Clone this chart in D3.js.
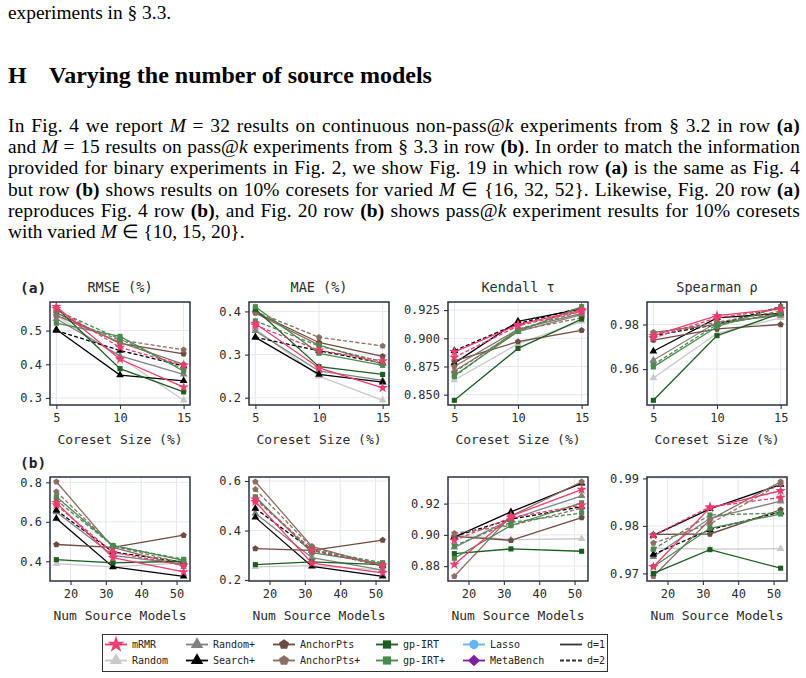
<!DOCTYPE html>
<html>
<head>
<meta charset="utf-8">
<script src="https://cdn.jsdelivr.net/npm/d3@7"></script>
<style>
  body { margin: 0; background: #fff; }
  svg { display: block; }
  text { white-space: pre; }
</style>
</head>
<body>
<svg id="fig" width="806" height="678"></svg>
<script>
// x values
const coresetSizes = [5, 10, 15];
const sourceModels = [16, 32, 52];

// series: method and d (same order as rows of every value table below)
const seriesKeys = [
  ["Random", 1], ["Random+", 1], ["Search+", 1], ["Search+", 2],
  ["AnchorPts", 1], ["AnchorPts+", 1], ["AnchorPts+", 2],
  ["gp-IRT", 1], ["gp-IRT+", 1], ["gp-IRT+", 2],
  ["mRMR", 1], ["mRMR", 2]
];

// row (a): vs coreset size
const rmseCoreset = [
  [0.545, 0.420, 0.293], [0.535, 0.425, 0.370], [0.503, 0.368, 0.351], [0.500, 0.441, 0.395],
  [0.553, 0.462, 0.431], [0.545, 0.465, 0.400], [0.545, 0.472, 0.443],
  [0.568, 0.387, 0.318], [0.522, 0.483, 0.380], [0.560, 0.475, 0.385],
  [0.571, 0.415, 0.332], [0.565, 0.450, 0.397]
];
const maeCoreset = [
  [0.360, 0.250, 0.194], [0.355, 0.262, 0.240], [0.340, 0.254, 0.236], [0.340, 0.309, 0.280],
  [0.398, 0.328, 0.296], [0.396, 0.322, 0.278], [0.400, 0.340, 0.320],
  [0.405, 0.272, 0.254], [0.411, 0.303, 0.275], [0.378, 0.320, 0.283],
  [0.372, 0.269, 0.223], [0.368, 0.310, 0.285]
];
const kendallCoreset = [
  [0.863, 0.895, 0.915], [0.871, 0.906, 0.921], [0.878, 0.915, 0.926], [0.889, 0.913, 0.927],
  [0.880, 0.897, 0.907], [0.875, 0.908, 0.922], [0.870, 0.907, 0.918],
  [0.845, 0.891, 0.917], [0.867, 0.906, 0.928], [0.866, 0.908, 0.924],
  [0.888, 0.912, 0.925], [0.883, 0.911, 0.924]
];
const spearmanCoreset = [
  [0.956, 0.976, 0.983], [0.964, 0.981, 0.984], [0.968, 0.983, 0.985], [0.975, 0.980, 0.988],
  [0.973, 0.978, 0.980], [0.9765, 0.980, 0.985], [0.976, 0.981, 0.986],
  [0.946, 0.975, 0.985], [0.961, 0.979, 0.988], [0.962, 0.980, 0.985],
  [0.975, 0.984, 0.987], [0.974, 0.983, 0.987]
];

// row (b): vs number of source models
const rmseModels = [
  [0.388, 0.372, 0.392], [0.650, 0.430, 0.385], [0.617, 0.371, 0.324], [0.659, 0.447, 0.395],
  [0.485, 0.470, 0.532], [0.803, 0.470, 0.375], [0.752, 0.478, 0.390],
  [0.408, 0.392, 0.400], [0.727, 0.480, 0.405], [0.710, 0.478, 0.410],
  [0.697, 0.418, 0.346], [0.685, 0.445, 0.380]
];
const maeModels = [
  [0.253, 0.258, 0.240], [0.470, 0.290, 0.240], [0.453, 0.255, 0.215], [0.489, 0.320, 0.258],
  [0.327, 0.320, 0.361], [0.597, 0.336, 0.255], [0.566, 0.330, 0.262],
  [0.262, 0.273, 0.262], [0.536, 0.310, 0.266], [0.530, 0.322, 0.270],
  [0.516, 0.268, 0.229], [0.526, 0.320, 0.260]
];
const kendallModels = [
  [0.900, 0.897, 0.8975], [0.892, 0.910, 0.925], [0.8985, 0.9147, 0.933], [0.899, 0.910, 0.918],
  [0.899, 0.8965, 0.911], [0.8735, 0.912, 0.934], [0.901, 0.906, 0.917],
  [0.888, 0.891, 0.8895], [0.885, 0.906, 0.9205], [0.893, 0.908, 0.914],
  [0.881, 0.912, 0.929], [0.8965, 0.911, 0.919]
];
const spearmanModels = [
  [0.9753, 0.9751, 0.9752], [0.9735, 0.9816, 0.9852], [0.978, 0.9836, 0.9887], [0.974, 0.9792, 0.9829],
  [0.9782, 0.9783, 0.9834], [0.9694, 0.9813, 0.9893], [0.9764, 0.9804, 0.9889],
  [0.9700, 0.9750, 0.9711], [0.9714, 0.9795, 0.9825], [0.9751, 0.9823, 0.9827],
  [0.9714, 0.9838, 0.9874], [0.978, 0.9840, 0.9860]
];

// tick labels
const titles = ["RMSE (%)", "MAE (%)", "Kendall τ", "Spearman ρ"];
const xTicksA = [5, 10, 15];
const xTicksB = [20, 30, 40, 50];
const yTicksA = [[0.3, 0.4, 0.5], [0.2, 0.3, 0.4], [0.85, 0.875, 0.9, 0.925], [0.96, 0.98]];
const yTicksB = [[0.4, 0.6, 0.8], [0.2, 0.4, 0.6], [0.88, 0.90, 0.92], [0.97, 0.98, 0.99]];
const yFormatsA = [".1f", ".1f", ".3f", ".2f"];
const yFormatsB = [".1f", ".1f", ".2f", ".2f"];

// legend
const legendCols = [
  ["mRMR", "Random"], ["Random+", "Search+"], ["AnchorPts", "AnchorPts+"],
  ["gp-IRT", "gp-IRT+"], ["Lasso", "MetaBench"], ["d=1", "d=2"]
];

// ---------------------------------------------------------------------------
const pentagon = {
  draw(ctx, size) {
    const r = Math.sqrt(size / 2.378);
    for (let i = 0; i < 5; i++) {
      const a = -Math.PI / 2 + i * 2 * Math.PI / 5;
      i ? ctx.lineTo(r * Math.cos(a), r * Math.sin(a)) : ctx.moveTo(r * Math.cos(a), r * Math.sin(a));
    }
    ctx.closePath();
  }
};
const wideDiamond = {
  draw(ctx, size) {
    const r = Math.sqrt(size / 2);
    ctx.moveTo(0, -r); ctx.lineTo(r * 1.05, 0); ctx.lineTo(0, r); ctx.lineTo(-r * 1.05, 0); ctx.closePath();
  }
};

const methodStyle = {
  "mRMR":       {color: "#ef3b6e", symbol: d3.symbolStar, size: 34},
  "Random":     {color: "#c9c9c9", symbol: d3.symbolTriangle, size: 26},
  "Random+":    {color: "#808080", symbol: d3.symbolTriangle, size: 26},
  "Search+":    {color: "#000000", symbol: d3.symbolTriangle, size: 26},
  "AnchorPts":  {color: "#6d4c41", symbol: pentagon, size: 26},
  "AnchorPts+": {color: "#8d6e63", symbol: pentagon, size: 26},
  "gp-IRT":     {color: "#1b5e20", symbol: d3.symbolSquare, size: 26},
  "gp-IRT+":    {color: "#4a8a4e", symbol: d3.symbolSquare, size: 26},
  "Lasso":      {color: "#64b5f6", symbol: d3.symbolCircle, size: 26},
  "MetaBench":  {color: "#7b1fa2", symbol: wideDiamond, size: 26}
};

const mono = "'DejaVu Sans Mono', monospace";
const serif = "'Liberation Serif', 'Times New Roman', serif";
const svg = d3.select("#fig");

// ---------------------------------------------------------------------------
// page text
function textLine(parts, x, y, size, justifyTo, weight) {
  const t = svg.append("text")
    .attr("x", x).attr("y", y)
    .attr("font-family", serif).attr("font-size", size)
    .attr("font-weight", weight || "normal")
    .attr("fill", "#000");
  parts.forEach(([s, st]) => {
    const ts = t.append("tspan").text(s);
    if (st === "i") ts.attr("font-style", "italic");
    if (st === "b") ts.attr("font-weight", "bold");
  });
  if (justifyTo) {
    const full = parts.map(p => p[0]).join("");
    const w = t.node().getComputedTextLength();
    const extra = justifyTo - x - w;
    const nSpaces = full.split(" ").length - 1;
    const nChars = full.length;
    t.attr("letter-spacing", (extra * 0.45) / nChars)
     .attr("word-spacing", (extra * 0.55) / nSpaces);
  }
  return t;
}

textLine([["experiments in § 3.3."]], 8, 19, 19.4);
textLine([["H"]], 8, 83, 24, null, "bold");
textLine([["Varying the number of source models"]], 49, 83, 24, null, "bold");

const paragraph = [
  [["In Fig. 4 we report "], ["M", "i"], [" = 32 results on continuous non-pass@"], ["k", "i"], [" experiments from § 3.2 in row "], ["(a)", "b"]],
  [["and "], ["M", "i"], [" = 15 results on pass@"], ["k", "i"], [" experiments from § 3.3 in row "], ["(b)", "b"], [". In order to match the information"]],
  [["provided for binary experiments in Fig. 2, we show Fig. 19 in which row "], ["(a)", "b"], [" is the same as Fig. 4"]],
  [["but row "], ["(b)", "b"], [" shows results on 10% coresets for varied "], ["M", "i"], [" ∈ {16, 32, 52}. Likewise, Fig. 20 row "], ["(a)", "b"]],
  [["reproduces Fig. 4 row "], ["(b)", "b"], [", and Fig. 20 row "], ["(b)", "b"], [" shows pass@"], ["k", "i"], [" experiment results for 10% coresets"]],
  [["with varied "], ["M", "i"], [" ∈ {10, 15, 20}."]]
];
paragraph.forEach((parts, i) => {
  textLine(parts, 8, 132 + i * 21.2, 19.4, i < paragraph.length - 1 ? 800 : null);
});

// ---------------------------------------------------------------------------
// panels
const lefts = [50, 249, 448, 647];
const panelW = 140;
const rows = [
  {top: 302, h: 103, xs: coresetSizes, xDomain: [4.5, 15.5], xTicks: xTicksA,
   yTicks: yTicksA, yFormats: yFormatsA, data: [rmseCoreset, maeCoreset, kendallCoreset, spearmanCoreset],
   xLabel: "Coreset Size (%)", tag: "(a)"},
  {top: 477, h: 104, xs: sourceModels, xDomain: [14.2, 53.8], xTicks: xTicksB,
   yTicks: yTicksB, yFormats: yFormatsB, data: [rmseModels, maeModels, kendallModels, spearmanModels],
   xLabel: "Num Source Models", tag: "(b)"}
];

rows.forEach((row, ri) => {
  svg.append("text")
    .attr("x", 20).attr("y", row.top - 9)
    .attr("font-family", mono).attr("font-size", 14.5).attr("font-weight", "bold")
    .attr("fill", "#222").text(row.tag);

  row.data.forEach((table, pi) => {
    const g = svg.append("g").attr("transform", `translate(${lefts[pi]},${row.top})`);
    const all = table.flat();
    const [lo, hi] = d3.extent(all);
    const pad = (hi - lo) * 0.05;

    const x = d3.scaleLinear().domain(row.xDomain).range([0, panelW]);
    const y = d3.scaleLinear().domain([lo - pad, hi + pad]).range([row.h, 0]);

    // grid
    g.append("g").selectAll("line").data(row.xTicks).join("line")
      .attr("x1", d => x(d)).attr("x2", d => x(d)).attr("y1", 0).attr("y2", row.h)
      .attr("stroke", "#e3e7ee").attr("stroke-width", 1);
    g.append("g").selectAll("line").data(row.yTicks[pi]).join("line")
      .attr("y1", d => y(d)).attr("y2", d => y(d)).attr("x1", 0).attr("x2", panelW)
      .attr("stroke", "#e3e7ee").attr("stroke-width", 1);

    // series
    const line = d3.line().x((d, i) => x(row.xs[i])).y(d => y(d));
    table.forEach((vals, si) => {
      const [method, dd] = seriesKeys[si];
      const st = methodStyle[method];
      g.append("path")
        .attr("d", line(vals))
        .attr("fill", "none")
        .attr("stroke", st.color)
        .attr("stroke-width", 1.3)
        .attr("stroke-dasharray", dd === 2 ? "4,2.2" : null);
      g.append("g").selectAll("path").data(vals).join("path")
        .attr("transform", (d, i) => `translate(${x(row.xs[i])},${y(d)})`)
        .attr("d", d3.symbol(st.symbol, st.size))
        .attr("fill", st.color);
    });

    // frame
    g.append("rect").attr("width", panelW).attr("height", row.h)
      .attr("fill", "none").attr("stroke", "#2b303b").attr("stroke-width", 1.5);

    // axes
    const xAxis = g.append("g").attr("transform", `translate(0,${row.h})`)
      .call(d3.axisBottom(x).tickValues(row.xTicks).tickSize(4).tickPadding(4).tickFormat(d3.format("d")));
    const yAxis = g.append("g")
      .call(d3.axisLeft(y).tickValues(row.yTicks[pi]).tickSize(4).tickPadding(4).tickFormat(d3.format(row.yFormats[pi])));
    [xAxis, yAxis].forEach(a => {
      a.select(".domain").remove();
      a.selectAll("line").attr("stroke", "#2b303b").attr("stroke-width", 1.1);
      a.selectAll("text").attr("font-family", mono).attr("font-size", 12).attr("fill", "#2b2b2b");
    });

    svg.append("text")
      .attr("x", lefts[pi] + panelW / 2).attr("y", row.top + row.h + 39)
      .attr("text-anchor", "middle")
      .attr("font-family", mono).attr("font-size", 13).attr("fill", "#2b2b2b")
      .text(row.xLabel);

    if (ri === 0) {
      svg.append("text")
        .attr("x", lefts[pi] + panelW / 2).attr("y", row.top - 10)
        .attr("text-anchor", "middle")
        .attr("font-family", mono).attr("font-size", 13.5).attr("fill", "#2b2b2b")
        .text(titles[pi]);
    }
  });
});

// ---------------------------------------------------------------------------
// legend
const lg = svg.append("g");
lg.append("rect").attr("x", 102.5).attr("y", 634.5).attr("width", 505).attr("height", 37)
  .attr("fill", "#fff").attr("stroke", "#333").attr("stroke-width", 1);
const colX = [105, 186, 273, 376, 463, 560];
const rowY = [644.5, 660.5];
legendCols.forEach((col, ci) => {
  col.forEach((name, ri) => {
    const cx = colX[ci], cy = rowY[ri];
    const st = methodStyle[name];
    const color = st ? st.color : "#333";
    lg.append("line").attr("x1", cx).attr("x2", cx + 22).attr("y1", cy).attr("y2", cy)
      .attr("stroke", color).attr("stroke-width", 1.8)
      .attr("stroke-dasharray", name === "d=2" ? "4,2" : null);
    if (st) {
      lg.append("path").attr("transform", `translate(${cx + 11},${cy})`)
        .attr("d", d3.symbol(st.symbol, st.size * 2.6)).attr("fill", color);
    }
    lg.append("text").attr("x", cx + 27).attr("y", cy + 3.6)
      .attr("font-family", mono).attr("font-size", 10).attr("fill", "#222").text(name);
  });
});
</script>
</body>
</html>
